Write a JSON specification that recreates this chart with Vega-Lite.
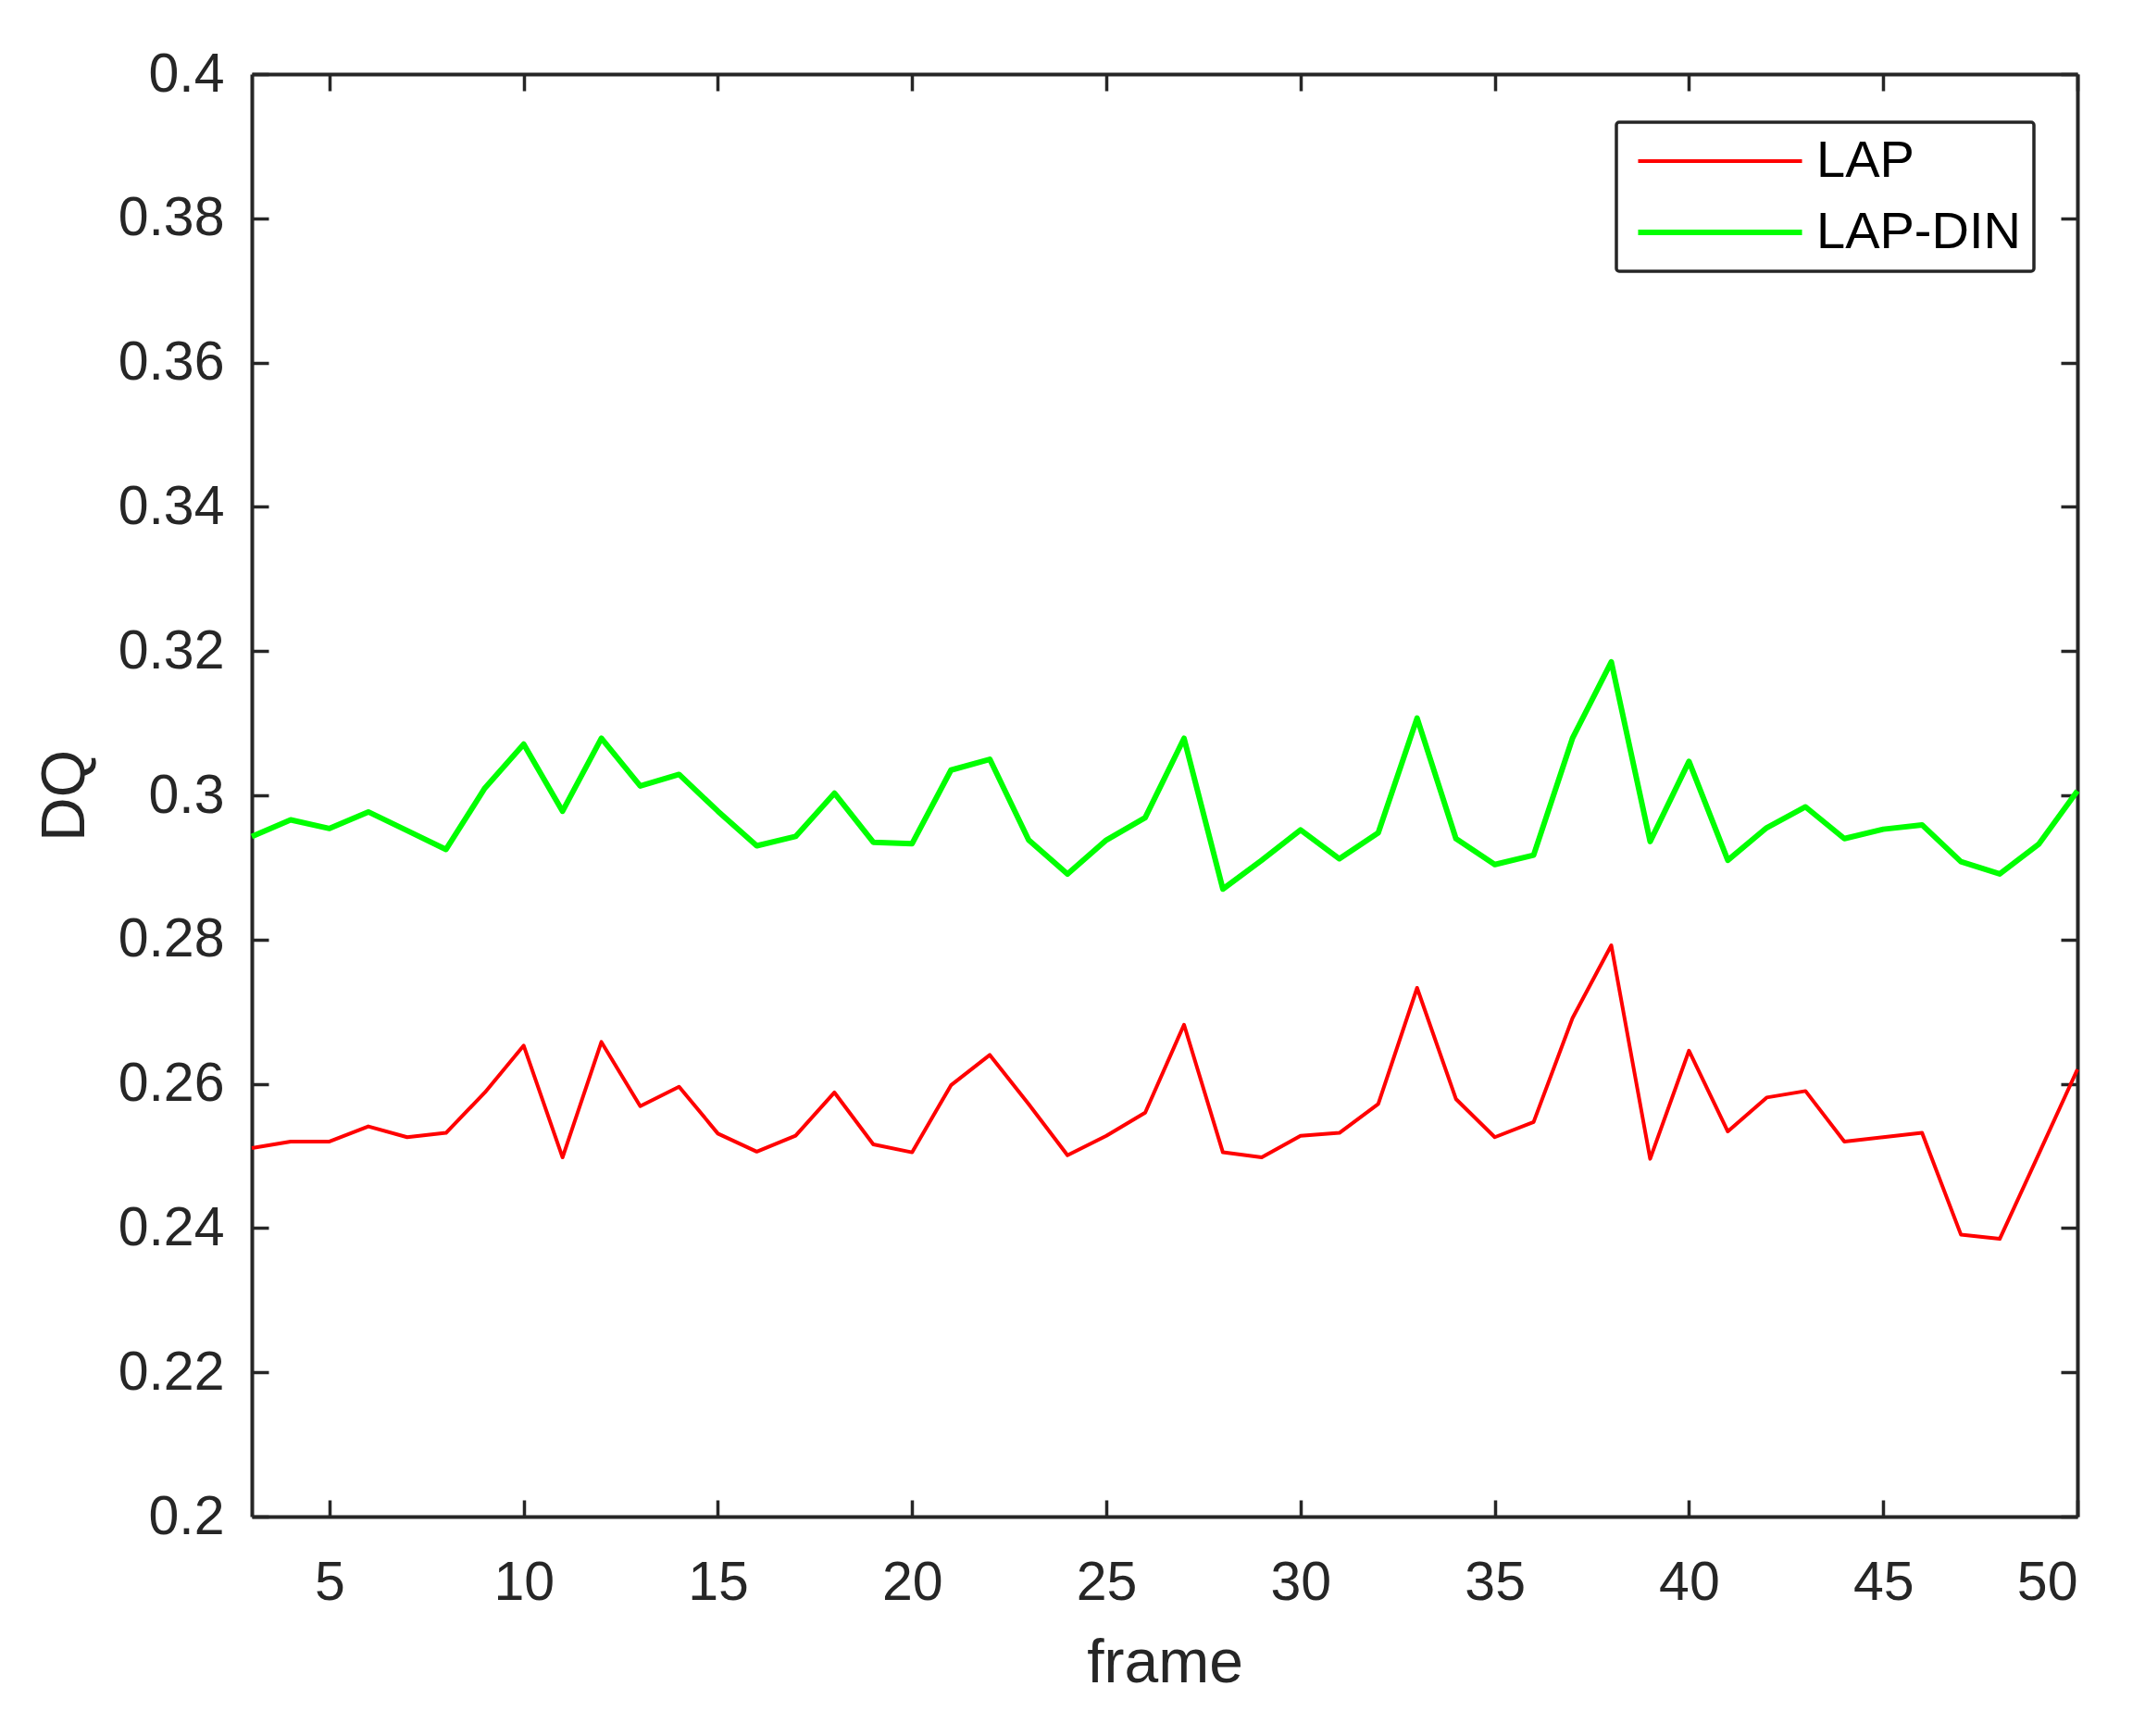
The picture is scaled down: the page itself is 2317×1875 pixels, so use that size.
{
  "$schema": "https://vega.github.io/schema/vega-lite/v6.json",
  "width": 1972,
  "height": 1558,
  "autosize": {"type": "none"},
  "padding": {"left": 272, "top": 80, "right": 73, "bottom": 237},
  "background": "white",
  "config": {
    "view": {"stroke": null},
    "font": "Liberation Sans",
    "axis": {
      "domainColor": "#262626",
      "domainWidth": 4,
      "tickColor": "#262626",
      "tickWidth": 3.5,
      "tickSize": -18,
      "labelColor": "#262626",
      "labelFont": "Liberation Sans",
      "labelFontSize": 59,
      "titleFont": "Liberation Sans",
      "titleFontSize": 66,
      "titleFontWeight": "normal",
      "titleColor": "#262626",
      "grid": false
    }
  },
  "data": {
    "values": [
      {"frame": 3, "method": "LAP", "DQ": 0.2511},
      {"frame": 4, "method": "LAP", "DQ": 0.2520},
      {"frame": 5, "method": "LAP", "DQ": 0.2520},
      {"frame": 6, "method": "LAP", "DQ": 0.2541},
      {"frame": 7, "method": "LAP", "DQ": 0.2526},
      {"frame": 8, "method": "LAP", "DQ": 0.2532},
      {"frame": 9, "method": "LAP", "DQ": 0.2588},
      {"frame": 10, "method": "LAP", "DQ": 0.2653},
      {"frame": 11, "method": "LAP", "DQ": 0.2498},
      {"frame": 12, "method": "LAP", "DQ": 0.2658},
      {"frame": 13, "method": "LAP", "DQ": 0.2569},
      {"frame": 14, "method": "LAP", "DQ": 0.2596},
      {"frame": 15, "method": "LAP", "DQ": 0.2531},
      {"frame": 16, "method": "LAP", "DQ": 0.2506},
      {"frame": 17, "method": "LAP", "DQ": 0.2528},
      {"frame": 18, "method": "LAP", "DQ": 0.2588},
      {"frame": 19, "method": "LAP", "DQ": 0.2516},
      {"frame": 20, "method": "LAP", "DQ": 0.2505},
      {"frame": 21, "method": "LAP", "DQ": 0.2598},
      {"frame": 22, "method": "LAP", "DQ": 0.2640},
      {"frame": 23, "method": "LAP", "DQ": 0.2572},
      {"frame": 24, "method": "LAP", "DQ": 0.2501},
      {"frame": 25, "method": "LAP", "DQ": 0.2528},
      {"frame": 26, "method": "LAP", "DQ": 0.2560},
      {"frame": 27, "method": "LAP", "DQ": 0.2682},
      {"frame": 28, "method": "LAP", "DQ": 0.2505},
      {"frame": 29, "method": "LAP", "DQ": 0.2498},
      {"frame": 30, "method": "LAP", "DQ": 0.2528},
      {"frame": 31, "method": "LAP", "DQ": 0.2532},
      {"frame": 32, "method": "LAP", "DQ": 0.2572},
      {"frame": 33, "method": "LAP", "DQ": 0.2733},
      {"frame": 34, "method": "LAP", "DQ": 0.2579},
      {"frame": 35, "method": "LAP", "DQ": 0.2526},
      {"frame": 36, "method": "LAP", "DQ": 0.2547},
      {"frame": 37, "method": "LAP", "DQ": 0.2691},
      {"frame": 38, "method": "LAP", "DQ": 0.2792},
      {"frame": 39, "method": "LAP", "DQ": 0.2496},
      {"frame": 40, "method": "LAP", "DQ": 0.2646},
      {"frame": 41, "method": "LAP", "DQ": 0.2534},
      {"frame": 42, "method": "LAP", "DQ": 0.2581},
      {"frame": 43, "method": "LAP", "DQ": 0.2590},
      {"frame": 44, "method": "LAP", "DQ": 0.2520},
      {"frame": 45, "method": "LAP", "DQ": 0.2526},
      {"frame": 46, "method": "LAP", "DQ": 0.2532},
      {"frame": 47, "method": "LAP", "DQ": 0.2391},
      {"frame": 48, "method": "LAP", "DQ": 0.2385},
      {"frame": 49, "method": "LAP", "DQ": 0.2502},
      {"frame": 50, "method": "LAP", "DQ": 0.2620},
      {"frame": 3, "method": "LAP-DIN", "DQ": 0.2943},
      {"frame": 4, "method": "LAP-DIN", "DQ": 0.2966},
      {"frame": 5, "method": "LAP-DIN", "DQ": 0.2954},
      {"frame": 6, "method": "LAP-DIN", "DQ": 0.2977},
      {"frame": 7, "method": "LAP-DIN", "DQ": 0.2951},
      {"frame": 8, "method": "LAP-DIN", "DQ": 0.2925},
      {"frame": 9, "method": "LAP-DIN", "DQ": 0.3010},
      {"frame": 10, "method": "LAP-DIN", "DQ": 0.3071},
      {"frame": 11, "method": "LAP-DIN", "DQ": 0.2978},
      {"frame": 12, "method": "LAP-DIN", "DQ": 0.3079},
      {"frame": 13, "method": "LAP-DIN", "DQ": 0.3013},
      {"frame": 14, "method": "LAP-DIN", "DQ": 0.3029},
      {"frame": 15, "method": "LAP-DIN", "DQ": 0.2978},
      {"frame": 16, "method": "LAP-DIN", "DQ": 0.2930},
      {"frame": 17, "method": "LAP-DIN", "DQ": 0.2943},
      {"frame": 18, "method": "LAP-DIN", "DQ": 0.3003},
      {"frame": 19, "method": "LAP-DIN", "DQ": 0.2935},
      {"frame": 20, "method": "LAP-DIN", "DQ": 0.2933},
      {"frame": 21, "method": "LAP-DIN", "DQ": 0.3035},
      {"frame": 22, "method": "LAP-DIN", "DQ": 0.3050},
      {"frame": 23, "method": "LAP-DIN", "DQ": 0.2938},
      {"frame": 24, "method": "LAP-DIN", "DQ": 0.2891},
      {"frame": 25, "method": "LAP-DIN", "DQ": 0.2938},
      {"frame": 26, "method": "LAP-DIN", "DQ": 0.2969},
      {"frame": 27, "method": "LAP-DIN", "DQ": 0.3079},
      {"frame": 28, "method": "LAP-DIN", "DQ": 0.2870},
      {"frame": 29, "method": "LAP-DIN", "DQ": 0.2910},
      {"frame": 30, "method": "LAP-DIN", "DQ": 0.2952},
      {"frame": 31, "method": "LAP-DIN", "DQ": 0.2912},
      {"frame": 32, "method": "LAP-DIN", "DQ": 0.2948},
      {"frame": 33, "method": "LAP-DIN", "DQ": 0.3107},
      {"frame": 34, "method": "LAP-DIN", "DQ": 0.2940},
      {"frame": 35, "method": "LAP-DIN", "DQ": 0.2904},
      {"frame": 36, "method": "LAP-DIN", "DQ": 0.2917},
      {"frame": 37, "method": "LAP-DIN", "DQ": 0.3079},
      {"frame": 38, "method": "LAP-DIN", "DQ": 0.3185},
      {"frame": 39, "method": "LAP-DIN", "DQ": 0.2936},
      {"frame": 40, "method": "LAP-DIN", "DQ": 0.3047},
      {"frame": 41, "method": "LAP-DIN", "DQ": 0.2910},
      {"frame": 42, "method": "LAP-DIN", "DQ": 0.2955},
      {"frame": 43, "method": "LAP-DIN", "DQ": 0.2984},
      {"frame": 44, "method": "LAP-DIN", "DQ": 0.2940},
      {"frame": 45, "method": "LAP-DIN", "DQ": 0.2953},
      {"frame": 46, "method": "LAP-DIN", "DQ": 0.2959},
      {"frame": 47, "method": "LAP-DIN", "DQ": 0.2908},
      {"frame": 48, "method": "LAP-DIN", "DQ": 0.2891},
      {"frame": 49, "method": "LAP-DIN", "DQ": 0.2932},
      {"frame": 50, "method": "LAP-DIN", "DQ": 0.3006}
    ]
  },
  "layer": [
    {
      "mark": {"type": "line", "strokeJoin": "round"},
      "encoding": {
        "x": {
          "field": "frame",
          "type": "quantitative",
          "scale": {"domain": [3, 50], "nice": false, "zero": false},
          "axis": {
            "orient": "bottom",
            "values": [5, 10, 15, 20, 25, 30, 35, 40, 45, 50],
            "title": "frame",
            "labelPadding": 60,
            "titlePadding": 25
          }
        },
        "y": {
          "field": "DQ",
          "type": "quantitative",
          "scale": {"domain": [0.2, 0.4], "nice": false, "zero": false},
          "axis": {
            "orient": "left",
            "values": [0.2, 0.22, 0.24, 0.26, 0.28, 0.3, 0.32, 0.34, 0.36, 0.38, 0.4],
            "format": ".2~f",
            "title": "DQ",
            "labelPadding": 48,
            "titlePadding": 23
          }
        },
        "color": {
          "field": "method",
          "type": "nominal",
          "scale": {"domain": ["LAP", "LAP-DIN"], "range": ["#FF0000", "#00FF00"]},
          "legend": {
            "orient": "none",
            "legendX": 1474,
            "legendY": 52,
            "title": null,
            "padding": 14,
            "fillColor": "white",
            "strokeColor": "#262626",
            "cornerRadius": 3,
            "symbolType": "M-5,0H5",
            "symbolSize": 1254,
            "symbolStrokeWidth": 4.5,
            "symbolOffset": 70,
            "labelOffset": 76,
            "labelFont": "Liberation Sans",
            "labelFontSize": 56,
            "labelColor": "#000000",
            "labelLimit": 1000,
            "rowPadding": 21,
            "encode": {"legend": {"update": {"strokeWidth": {"value": 3.5}}}}
          }
        },
        "strokeWidth": {
          "field": "method",
          "type": "nominal",
          "scale": {"domain": ["LAP", "LAP-DIN"], "range": [4, 6]},
          "legend": null
        }
      }
    },
    {
      "mark": {"type": "line", "opacity": 0},
      "encoding": {
        "detail": {"field": "method", "type": "nominal"},
        "x": {
          "field": "frame",
          "type": "quantitative",
          "scale": {"domain": [3, 50], "nice": false, "zero": false},
          "axis": {
            "orient": "top",
            "values": [5, 10, 15, 20, 25, 30, 35, 40, 45, 50],
            "labels": false,
            "title": null
          }
        },
        "y": {
          "field": "DQ",
          "type": "quantitative",
          "scale": {"domain": [0.2, 0.4], "nice": false, "zero": false},
          "axis": {
            "orient": "right",
            "values": [0.2, 0.22, 0.24, 0.26, 0.28, 0.3, 0.32, 0.34, 0.36, 0.38, 0.4],
            "labels": false,
            "title": null
          }
        }
      }
    }
  ],
  "resolve": {"axis": {"x": "independent", "y": "independent"}}
}
